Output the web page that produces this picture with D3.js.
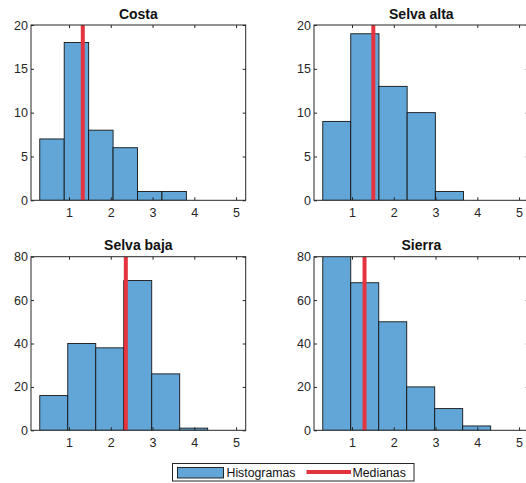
<!DOCTYPE html>
<html>
<head>
<meta charset="utf-8">
<script src="https://cdn.jsdelivr.net/npm/d3@7"></script>
<style>
  body { margin: 0; background: #fff; }
  svg { display: block; font-family: "Liberation Sans", Arial, sans-serif; }
</style>
</head>
<body>
<div id="chart"></div>
<script>
// regions (one histogram each)
const regiones = ["Costa", "Selva alta", "Selva baja", "Sierra"];

// bin edges
const bordesCosta = [0.3, 0.885, 1.47, 2.055, 2.64, 3.225, 3.81];
const bordesSelvaAlta = [0.3, 0.97, 1.645, 2.32, 2.995, 3.67];
const bordesSelvaBaja = [0.3, 0.97, 1.64, 2.31, 2.98, 3.65, 4.32];
const bordesSierra = [0.3, 0.97, 1.64, 2.31, 2.98, 3.65, 4.32];

// counts per bin
const conteoCosta = [7, 18, 8, 6, 1, 1];
const conteoSelvaAlta = [9, 19, 13, 10, 1];
const conteoSelvaBaja = [16, 40, 38, 69, 26, 1];
const conteoSierra = [86, 68, 50, 20, 10, 2];

// medians
const medianas = [1.33, 1.51, 2.36, 1.30];

// axis ticks
const ticksX = [1, 2, 3, 4, 5];
const ticksYArriba = [0, 5, 10, 15, 20];
const ticksYAbajo = [0, 20, 40, 60, 80];

const bordes = [bordesCosta, bordesSelvaAlta, bordesSelvaBaja, bordesSierra];
const conteos = [conteoCosta, conteoSelvaAlta, conteoSelvaBaja, conteoSierra];

const W = 526, H = 483;
const svg = d3.select("#chart").append("svg")
  .attr("width", W).attr("height", H);

const azul = "#62a6d8";
const rojo = "#e3343f";
const gris = "#262626";

// panel boxes
const cajas = [
  {x0: 31, x1: 245.7, y0: 25, y1: 200.3, yMax: 20, ticksY: ticksYArriba},
  {x0: 314, x1: 528.7, y0: 25, y1: 200.3, yMax: 20, ticksY: ticksYArriba},
  {x0: 31, x1: 245.7, y0: 256.7, y1: 430.3, yMax: 80, ticksY: ticksYAbajo},
  {x0: 314, x1: 528.7, y0: 256.7, y1: 430.3, yMax: 80, ticksY: ticksYAbajo}
];

cajas.forEach((c, i) => {
  const x = d3.scaleLinear().domain([0.09, 5.23]).range([c.x0, c.x1]);
  const y = d3.scaleLinear().domain([0, c.yMax]).range([c.y1, c.y0]);

  const bins = conteos[i].map((n, j) => ({a: bordes[i][j], b: bordes[i][j + 1], n: n}));

  svg.append("clipPath").attr("id", "clip" + i)
    .append("rect")
    .attr("x", c.x0).attr("y", c.y0)
    .attr("width", c.x1 - c.x0).attr("height", c.y1 - c.y0);

  const g = svg.append("g").attr("clip-path", "url(#clip" + i + ")");

  g.selectAll("rect.bar")
    .data(bins)
    .enter()
    .append("rect")
    .attr("class", "bar")
    .attr("x", d => x(d.a))
    .attr("y", d => y(d.n))
    .attr("width", d => x(d.b) - x(d.a))
    .attr("height", d => y(0) - y(d.n))
    .attr("fill", azul)
    .attr("stroke", "#151515")
    .attr("stroke-width", 0.9);

  g.append("line")
    .attr("x1", x(medianas[i])).attr("x2", x(medianas[i]))
    .attr("y1", y(0)).attr("y2", y(c.yMax))
    .attr("stroke", rojo)
    .attr("stroke-width", 4);

  // axes
  const ejeX = svg.append("g")
    .attr("transform", "translate(0," + c.y1 + ")")
    .call(d3.axisBottom(x).tickValues(ticksX).tickFormat(d3.format("d"))
      .tickSize(-3).tickPadding(7.5).tickSizeOuter(0));
  const ejeY = svg.append("g")
    .attr("transform", "translate(" + c.x0 + ",0)")
    .call(d3.axisLeft(y).tickValues(c.ticksY).tickFormat(d3.format("d"))
      .tickSize(-3).tickPadding(3).tickSizeOuter(0));
  const ejeTop = svg.append("g")
    .attr("transform", "translate(0," + c.y0 + ")")
    .call(d3.axisTop(x).tickValues(ticksX).tickSize(-3).tickFormat("").tickSizeOuter(0));
  const ejeDer = svg.append("g")
    .attr("transform", "translate(" + c.x1 + ",0)")
    .call(d3.axisRight(y).tickValues(c.ticksY).tickSize(-3).tickFormat("").tickSizeOuter(0));

  [ejeX, ejeY, ejeTop, ejeDer].forEach(e => {
    e.select(".domain").remove();
    e.selectAll("line").attr("stroke", gris);
    e.selectAll("text").attr("fill", gris).style("font-size", "12.5px")
      .style("font-family", "'Liberation Sans', Arial, sans-serif");
  });

  svg.append("rect")
    .attr("x", c.x0).attr("y", c.y0)
    .attr("width", c.x1 - c.x0).attr("height", c.y1 - c.y0)
    .attr("fill", "none")
    .attr("stroke", gris)
    .attr("stroke-width", 1);

  svg.append("text")
    .attr("x", (c.x0 + c.x1) / 2)
    .attr("y", c.y0 - 6.5)
    .attr("text-anchor", "middle")
    .style("font-size", "14px")
    .style("font-weight", "bold")
    .attr("fill", "#111")
    .text(regiones[i]);
});

// legend
const ley = svg.append("g");
ley.append("rect")
  .attr("x", 172.5).attr("y", 463.5).attr("width", 241.5).attr("height", 17.5)
  .attr("fill", "#fff").attr("stroke", gris).attr("stroke-width", 1);
ley.append("rect")
  .attr("x", 177.5).attr("y", 467.5).attr("width", 46).attr("height", 10.5)
  .attr("fill", azul).attr("stroke", "#151515").attr("stroke-width", 0.9);
ley.append("text")
  .attr("x", 226.5).attr("y", 476.5)
  .style("font-size", "12.3px").attr("fill", "#111")
  .text("Histogramas");
ley.append("line")
  .attr("x1", 306.5).attr("x2", 351).attr("y1", 472).attr("y2", 472)
  .attr("stroke", rojo).attr("stroke-width", 4);
ley.append("text")
  .attr("x", 352.5).attr("y", 476.5)
  .style("font-size", "12.3px").attr("fill", "#111")
  .text("Medianas");
</script>
</body>
</html>
